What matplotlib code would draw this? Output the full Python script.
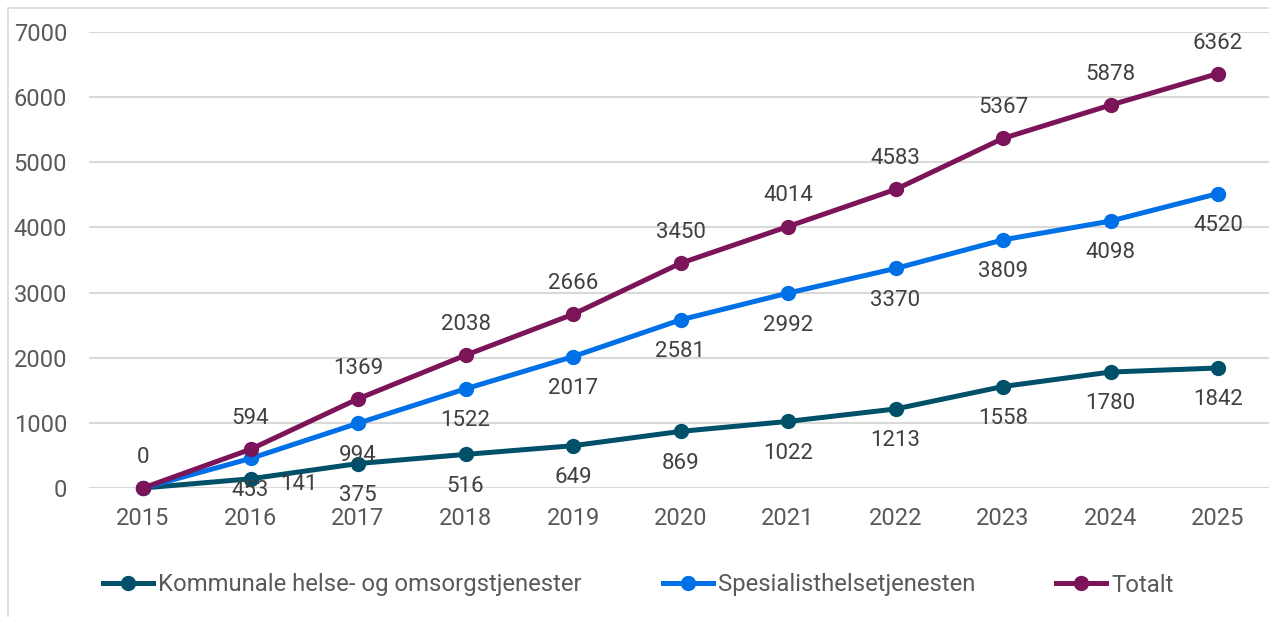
import matplotlib.pyplot as plt
from matplotlib.patches import Rectangle

# ---------------------------------------------------------------------------
# Data
# ---------------------------------------------------------------------------
years = ["2015", "2016", "2017", "2018", "2019", "2020",
         "2021", "2022", "2023", "2024", "2025"]
kommunale = [0, 141, 375, 516, 649, 869, 1022, 1213, 1558, 1780, 1842]
spesialist = [0, 453, 994, 1522, 2017, 2581, 2992, 3370, 3809, 4098, 4520]
totalt = [0, 594, 1369, 2038, 2666, 3450, 4014, 4583, 5367, 5878, 6362]

names = ["Kommunale helse- og omsorgstjenester",
         "Spesialisthelsetjenesten", "Totalt"]
colors = ["#00506A", "#0070E6", "#7B1458"]

plt.rcParams["font.family"] = ["Roboto", "DejaVu Sans"]

fig = plt.figure(figsize=(12.69, 6.17), dpi=100)
ax = fig.add_axes([89.25 / 1269, 1 - 488 / 617, 1182.5 / 1269, 456 / 617])

# light frame around chart area
fig.patches.append(Rectangle((8 / 1269, -0.1), 1.2, 1 - 8 / 617 + 0.1,
                             transform=fig.transFigure, fill=False,
                             edgecolor="#d9d9d9", linewidth=1.2))

x = list(range(len(years)))
series = [kommunale, spesialist, totalt]
for vals, name, col in zip(series, names, colors):
    ax.plot(x, vals, color=col, linewidth=3.6, marker="o", markersize=10,
            label=name, clip_on=False, zorder=3)

label_col = "#404040"
fs = 16
# Totalt labels above
for i, v in enumerate(totalt):
    ax.annotate(str(v), (i, v), xytext=(0, 22), textcoords="offset points",
                ha="center", va="center", fontsize=fs, color=label_col)
# Spesialist labels below (skip 0)
for i, v in enumerate(spesialist):
    if i == 0:
        continue
    ax.annotate(str(v), (i, v), xytext=(0, -23), textcoords="offset points",
                ha="center", va="center", fontsize=fs, color=label_col)
# Kommunale labels below, 2016 to the right
for i, v in enumerate(kommunale):
    if i == 0:
        continue
    if i == 1:
        ax.annotate(str(v), (i, v), xytext=(35, -4), textcoords="offset points",
                    ha="center", va="center", fontsize=fs, color=label_col)
    else:
        ax.annotate(str(v), (i, v), xytext=(0, -23), textcoords="offset points",
                    ha="center", va="center", fontsize=fs, color=label_col)

ax.set_xlim(-0.5, 10.5)
ax.set_ylim(0, 7000)
ax.set_xticks(x)
ax.set_xticklabels(years)
ax.set_yticks(range(0, 7001, 1000))
ax.tick_params(axis="both", length=0, labelsize=17, colors="#595959")
ax.tick_params(axis="y", pad=16)
ax.tick_params(axis="x", pad=14)
ax.grid(axis="y", color="#d9d9d9", linewidth=1.5)
ax.set_axisbelow(True)
for s in ax.spines.values():
    s.set_visible(False)

fig.legend(loc="center", bbox_to_anchor=(0.503, 1 - 585 / 617), ncol=3,
           frameon=False, fontsize=17.2, handlelength=2.1, handletextpad=0.2,
           columnspacing=3.4, labelcolor="#595959")

fig.savefig("out.png", dpi=100)
